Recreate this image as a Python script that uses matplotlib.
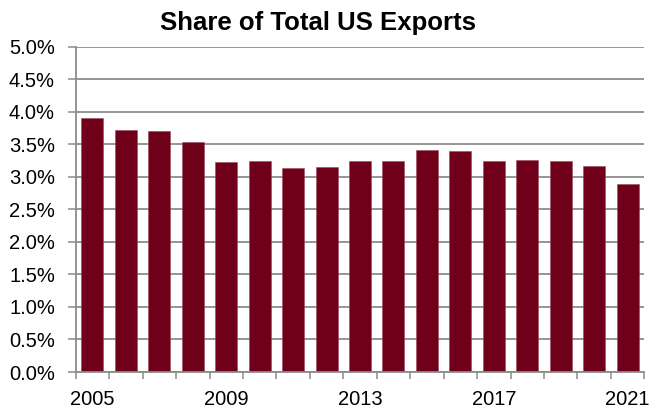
import matplotlib.pyplot as plt
import numpy as np
from matplotlib.ticker import PercentFormatter

plt.rcParams['font.family'] = ['Liberation Sans', 'DejaVu Sans']

# share of total US exports, percent
years = list(range(2005, 2022))
share = [3.90, 3.72, 3.71, 3.54, 3.23, 3.24, 3.13, 3.15, 3.24,
         3.25, 3.41, 3.40, 3.24, 3.26, 3.24, 3.16, 2.89]
label_years = [2005, 2009, 2013, 2017, 2021]

bar_color = '#70001A'
grid_color = '#8C8C8C'


def plot_exports():
    fig = plt.figure(figsize=(6.5, 4.08), dpi=100)
    ax = fig.add_axes([0.1165, 0.0882, 0.8747, 0.7973])

    x = np.arange(len(years))
    ax.bar(x, share, width=0.66, color=bar_color, edgecolor='#9a4a5e',
           linewidth=0.4, zorder=3)

    # y axis: 0-5% with a gridline every half percent
    ax.set_ylim(0, 5)
    ax.set_yticks(np.arange(0, 5.01, 0.5))
    ax.yaxis.set_major_formatter(PercentFormatter(decimals=1))
    ax.grid(axis='y', color=grid_color, linewidth=1.3, zorder=0)
    ax.tick_params(axis='y', length=6, width=1.1, color=grid_color,
                   pad=9, labelsize=14.5)

    # x axis: ticks between categories, labels every fourth year
    ax.set_xlim(-0.5, len(years) - 0.5)
    ax.set_xticks(np.arange(-0.5, len(years), 1.0), minor=True)
    ax.set_xticks([years.index(y) for y in label_years])
    ax.set_xticklabels([str(y) for y in label_years])
    ax.tick_params(axis='x', which='major', length=0, pad=13, labelsize=14.5)
    ax.tick_params(axis='x', which='minor', length=5, width=1.1,
                   color=grid_color)

    for side in ['top', 'right']:
        ax.spines[side].set_visible(False)
    for side in ['left', 'bottom']:
        ax.spines[side].set_color(grid_color)
        ax.spines[side].set_linewidth(1.3)
        ax.spines[side].set_zorder(4)

    fig.text(0.4885, 0.9265, 'Share of Total US Exports', ha='center',
             va='baseline', fontsize=18.5, fontweight='bold')

    fig.savefig('out.png', dpi=100)


if __name__ == "__main__":
    plot_exports()
